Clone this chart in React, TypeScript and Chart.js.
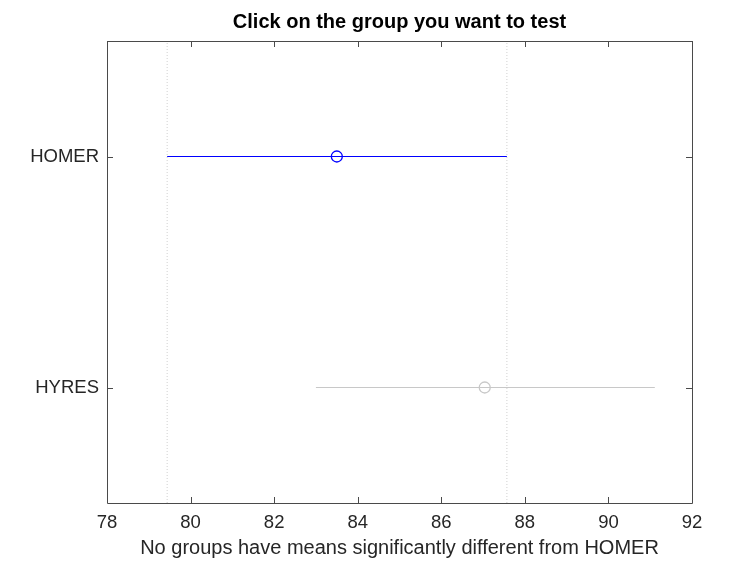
import React, { useEffect, useRef } from "react";
import { Chart, registerables } from "chart.js";

Chart.register(...registerables);

const groups = ["HOMER", "HYRES"];
const groupPos = [2, 1];
const means = [83.5, 87.04];
const lowers = [79.44, 83.0];
const uppers = [87.57, 91.11];
const colors = ["#0000ff", "#c8c8c8"];
const xTicks = [78, 80, 82, 84, 86, 88, 90, 92];

const AXIS_COLOR = "#4a4a4a";
const TEXT_COLOR = "#262626";
const FONT = "'Liberation Sans', Arial, Helvetica, sans-serif";

const boxPlugin = {
  id: "matlabBox",
  afterDraw(chart: any) {
    const { ctx, chartArea } = chart;
    const { left, right, top, bottom } = chartArea;
    const xs = chart.scales.x;
    const ys = chart.scales.y;
    ctx.save();
    ctx.strokeStyle = AXIS_COLOR;
    ctx.lineWidth = 1;
    ctx.beginPath();
    ctx.rect(Math.round(left) + 0.5, Math.round(top) + 0.5, Math.round(right - left), Math.round(bottom - top));
    ctx.stroke();
    const tl = 6;
    ctx.beginPath();
    xTicks.forEach((v) => {
      const px = Math.round(xs.getPixelForValue(v)) + 0.5;
      ctx.moveTo(px, bottom);
      ctx.lineTo(px, bottom - tl);
      ctx.moveTo(px, top);
      ctx.lineTo(px, top + tl);
    });
    groupPos.forEach((v) => {
      const py = Math.round(ys.getPixelForValue(v)) + 0.5;
      ctx.moveTo(left, py);
      ctx.lineTo(left + tl, py);
      ctx.moveTo(right, py);
      ctx.lineTo(right - tl, py);
    });
    ctx.stroke();
    ctx.restore();
  },
};

export default function App() {
  const ref = useRef<HTMLCanvasElement | null>(null);
  useEffect(() => {
    if (!ref.current) return;
    const datasets: any[] = [];
    // vertical dotted reference lines at the selected group's interval ends
    [lowers[0], uppers[0]].forEach((v) => {
      datasets.push({
        type: "line",
        data: [
          { x: v, y: 0.5 },
          { x: v, y: 2.5 },
        ],
        borderColor: "#d0d0d0",
        borderWidth: 1,
        borderDash: [1, 2],
        pointRadius: 0,
        fill: false,
      });
    });
    groups.forEach((g, i) => {
      datasets.push({
        type: "line",
        label: g + " interval",
        data: [
          { x: lowers[i], y: groupPos[i] },
          { x: uppers[i], y: groupPos[i] },
        ],
        borderColor: colors[i],
        borderWidth: 1.2,
        pointRadius: 0,
        fill: false,
      });
      datasets.push({
        type: "scatter",
        label: g,
        data: [{ x: means[i], y: groupPos[i] }],
        borderColor: colors[i],
        backgroundColor: "rgba(255,255,255,0)",
        borderWidth: 1.3,
        pointRadius: 5.5,
        pointStyle: "circle",
      });
    });
    const chart = new Chart(ref.current, {
      type: "scatter",
      data: { datasets },
      plugins: [boxPlugin],
      options: {
        animation: false,
        responsive: false,
        maintainAspectRatio: false,
        layout: { padding: { left: 0, right: 64, top: 0, bottom: 0 } },
        plugins: {
          legend: { display: false },
          tooltip: { enabled: false },
          title: {
            display: true,
            text: "Click on the group you want to test",
            fullSize: false,
            color: "#000000",
            font: { family: FONT, size: 20, weight: "bold" },
            padding: { top: 10, bottom: 7 },
          },
        },
        scales: {
          x: {
            type: "linear",
            min: 78,
            max: 92,
            afterBuildTicks: (s: any) => {
              s.ticks = xTicks.map((v) => ({ value: v }));
            },
            afterFit: (s: any) => {
              s.height = 62;
            },
            grid: { display: false, drawTicks: false },
            border: { display: false },
            ticks: {
              color: TEXT_COLOR,
              font: { family: FONT, size: 18.5 },
              padding: 9,
              maxRotation: 0,
              autoSkip: false,
            },
            title: {
              display: true,
              text: "No groups have means significantly different from HOMER",
              color: TEXT_COLOR,
              font: { family: FONT, size: 20 },
              padding: { top: 1, bottom: 5 },
            },
          },
          y: {
            type: "linear",
            min: 0.5,
            max: 2.5,
            afterBuildTicks: (s: any) => {
              s.ticks = groupPos.map((v) => ({ value: v }));
            },
            afterFit: (s: any) => {
              s.width = 107;
            },
            grid: { display: false, drawTicks: false },
            border: { display: false },
            ticks: {
              color: TEXT_COLOR,
              font: { family: FONT, size: 18.5 },
              padding: 8,
              autoSkip: false,
              callback: (v: any) => {
                const idx = groupPos.indexOf(Number(v));
                return idx >= 0 ? groups[idx] : "";
              },
            },
          },
        },
      },
    });
    return () => chart.destroy();
  }, []);
  return (
    <div style={{ position: "fixed", left: 0, top: 0, width: 756, height: 565, background: "#fff" }}>
      <canvas ref={ref} width={756} height={565} style={{ width: 756, height: 565 }} />
    </div>
  );
}
